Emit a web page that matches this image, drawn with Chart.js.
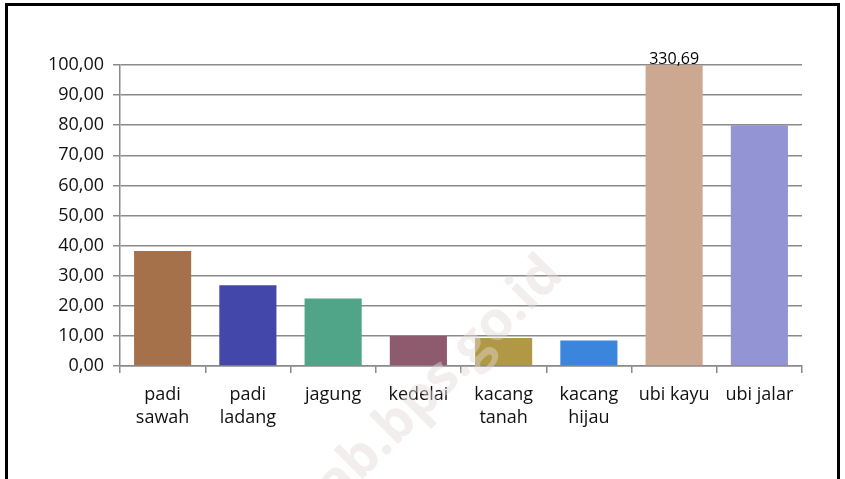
<!DOCTYPE html>
<html>
<head>
<meta charset="utf-8">
<script src="https://cdn.jsdelivr.net/npm/chart.js@4"></script>
<style>
  html, body { margin: 0; padding: 0; background: #fff; }
  #wrap { position: relative; width: 845px; height: 479px; overflow: hidden; }
  #frame { position: absolute; left: 5px; top: 3px; width: 835px; height: 520px; border: 3px solid #000; box-sizing: border-box; pointer-events: none; }
</style>
</head>
<body>
<div id="wrap">
  <canvas id="myChart" width="845" height="479"></canvas>
  <div id="frame"></div>
</div>
<script>
const categories = [['padi', 'sawah'], ['padi', 'ladang'], 'jagung', 'kedelai', ['kacang', 'tanah'], ['kacang', 'hijau'], 'ubi kayu', 'ubi jalar'];
const values = [38.2, 26.8, 22.4, 10.0, 9.3, 8.5, 330.69, 80.0];
const barColors = ['#A5714A', '#4347A9', '#50A488', '#8E5A6E', '#B09845', '#3C85DC', '#CDA890', '#9294D4'];
const labelledIndex = 6;

const fmt = v => v.toFixed(2).replace('.', ',');

// faint diagonal watermark plus the single value label
const extras = {
  id: 'extras',
  afterDatasetsDraw(chart) {
    const ctx = chart.ctx;
    const bar = chart.getDatasetMeta(0).data[labelledIndex];
    const y = Math.max(bar.y, chart.chartArea.top);
    ctx.save();
    ctx.font = '16px "Open Sans"';
    ctx.fillStyle = '#000';
    ctx.textAlign = 'center';
    ctx.textBaseline = 'bottom';
    ctx.fillText(fmt(values[labelledIndex]), bar.x, y + 2);
    ctx.restore();
  },
  afterDraw(chart) {
    const ctx = chart.ctx;
    ctx.save();
    ctx.translate(440, 380);
    ctx.rotate(-Math.PI / 4);
    ctx.font = 'bold 54px "Open Sans"';
    ctx.fillStyle = 'rgba(225, 218, 214, 0.45)';
    ctx.textAlign = 'center';
    ctx.textBaseline = 'middle';
    ctx.fillText('ab.bps.go.id', 0, 0);
    ctx.restore();
  }
};

new Chart(document.getElementById('myChart').getContext('2d'), {
  type: 'bar',
  data: {
    labels: categories,
    datasets: [{
      data: values,
      backgroundColor: barColors,
      categoryPercentage: 1,
      barPercentage: 0.67
    }]
  },
  options: {
    responsive: false,
    animation: false,
    layout: { padding: { top: 65, right: 43, left: 0, bottom: 0 } },
    plugins: { legend: { display: false }, tooltip: { enabled: false } },
    scales: {
      x: {
        afterFit: s => { s.height = 113; },
        grid: { drawOnChartArea: false, drawTicks: true, tickLength: 7, color: '#8a8a8a', lineWidth: 1.5 },
        border: { color: '#8a8a8a', width: 1.5 },
        ticks: { color: '#111', font: { family: 'Open Sans', size: 18, lineHeight: 1.3 }, padding: 10, maxRotation: 0, autoSkip: false }
      },
      y: {
        min: 0,
        max: 100,
        afterFit: s => { s.width = 120; },
        grid: { color: '#8a8a8a', lineWidth: 1.5, tickLength: 7 },
        border: { color: '#8a8a8a', width: 1.5 },
        ticks: { stepSize: 10, color: '#111', font: { family: 'Open Sans', size: 18 }, padding: 9, callback: v => fmt(v) }
      }
    }
  },
  plugins: [extras]
});
</script>
</body>
</html>
